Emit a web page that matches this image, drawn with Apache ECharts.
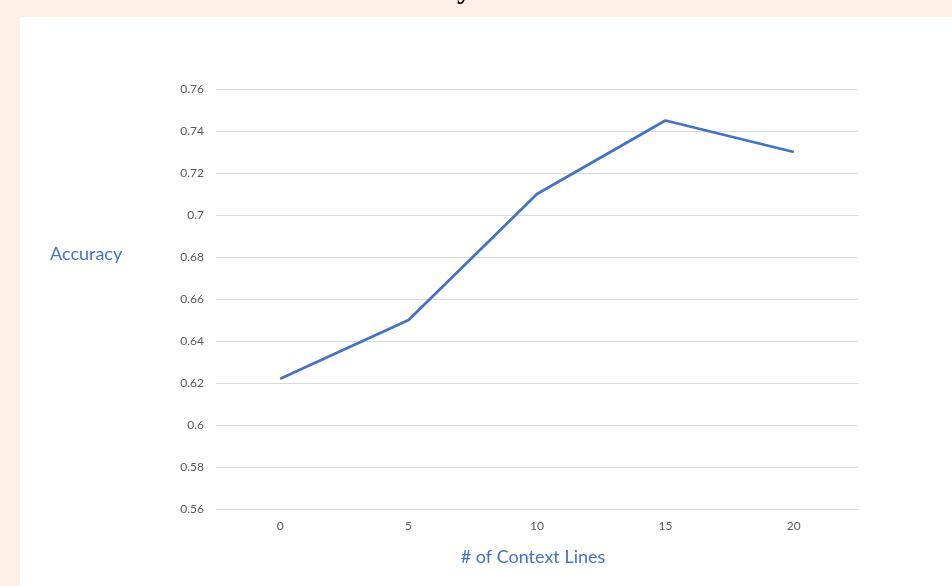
<!DOCTYPE html>
<html>
<head>
<meta charset="utf-8">
<style>
  html, body { margin: 0; padding: 0; background: #fef0e7; }
  #chart { width: 952px; height: 586px; }
</style>
<script src="https://cdn.jsdelivr.net/npm/echarts@6/dist/echarts.min.js"></script>
</head>
<body>
<div id="chart"></div>
<script>
// Number of context lines vs. accuracy
const contextLines = ['0', '5', '10', '15', '20'];
const accuracy = [0.622, 0.65, 0.71, 0.745, 0.73];
const yMin = 0.56;
const yMax = 0.76;
const yStep = 0.02;

const chart = echarts.init(document.getElementById('chart'));
const labelFont = 'Lato, "Open Sans", sans-serif';

chart.setOption({
  backgroundColor: '#fef0e7',
  animation: false,
  graphic: [
    {
      type: 'rect',
      z: -10,
      shape: { x: 20, y: 17, width: 932, height: 569 },
      style: { fill: '#ffffff' },
      silent: true
    },
    {
      // chart heading, mostly above the top edge
      type: 'text',
      z: 5,
      x: 472,
      y: -10,
      style: {
        text: 'Accuracy',
        font: 'bold 30px "Liberation Serif", "DejaVu Serif", serif',
        fill: '#000000',
        textAlign: 'right',
        textVerticalAlign: 'middle'
      }
    },
    {
      // y-axis title
      type: 'text',
      x: 50,
      y: 254,
      style: {
        text: 'Accuracy',
        font: '18px ' + labelFont,
        fill: '#4472c4',
        textAlign: 'left',
        textVerticalAlign: 'middle'
      }
    },
    {
      // x-axis title
      type: 'text',
      x: 533,
      y: 557,
      style: {
        text: '# of Context Lines',
        font: '18px ' + labelFont,
        fill: '#4472c4',
        textAlign: 'center',
        textVerticalAlign: 'middle'
      }
    }
  ],
  grid: { left: 216, right: 94, top: 89, bottom: 77, containLabel: false },
  xAxis: {
    type: 'category',
    data: contextLines,
    boundaryGap: true,
    axisLine: { show: true, lineStyle: { color: '#d9d9d9', width: 1 } },
    axisTick: { show: false },
    axisLabel: { color: '#595959', fontSize: 12, fontFamily: labelFont, margin: 11 }
  },
  yAxis: {
    type: 'value',
    min: yMin,
    max: yMax,
    interval: yStep,
    axisLine: { show: false },
    axisTick: { show: false },
    axisLabel: {
      color: '#595959', fontSize: 12, fontFamily: labelFont, margin: 12,
      formatter: v => String(parseFloat(v.toFixed(2)))
    },
    splitLine: { lineStyle: { color: '#d9d9d9', width: 1 } }
  },
  series: [
    {
      type: 'line',
      data: accuracy,
      symbol: 'none',
      lineStyle: { color: '#4472c4', width: 2.75 },
      itemStyle: { color: '#4472c4' }
    }
  ]
});
</script>
</body>
</html>
